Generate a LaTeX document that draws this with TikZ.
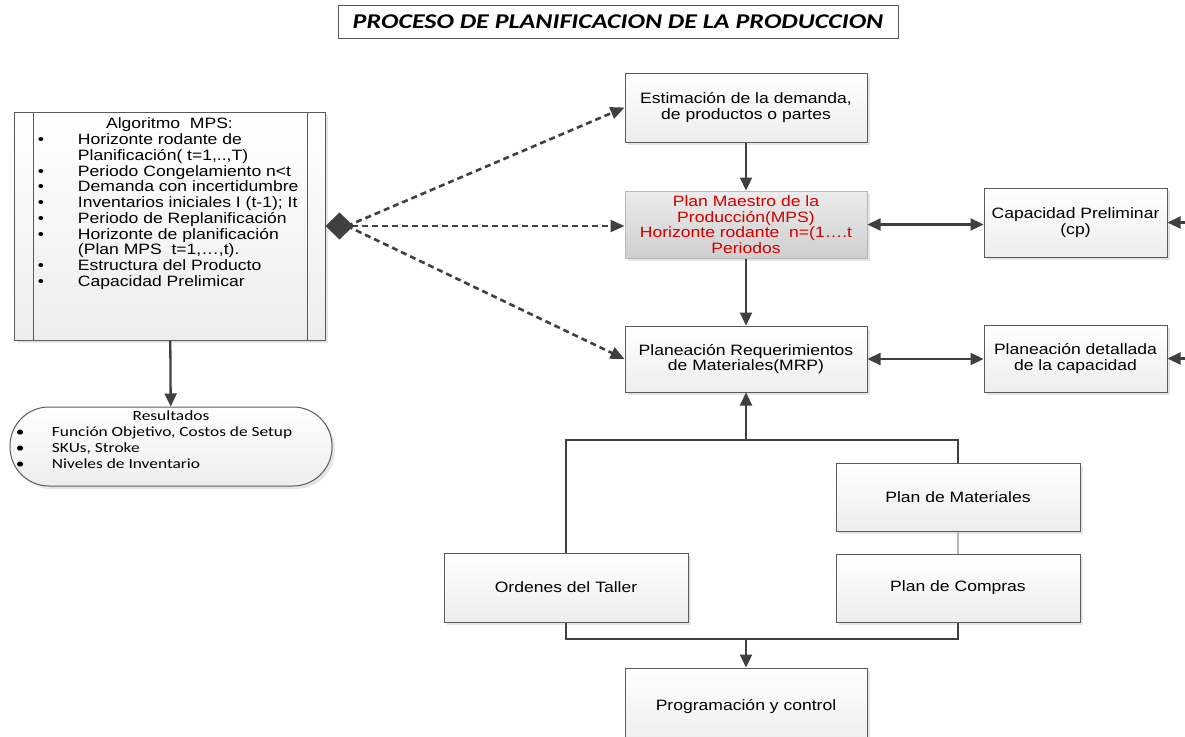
\documentclass[tikz,border=0pt]{standalone}
\usepackage{fontspec}
\setmainfont[FakeStretch=1.17]{Liberation Sans}
\newfontfamily\calfont[FakeStretch=1.24]{Carlito}
\usepackage{xcolor}
\usetikzlibrary{arrows.meta,shadows,calc}

\definecolor{linegray}{HTML}{404040}
\definecolor{boxgray}{HTML}{5A5A5A}
\definecolor{mpsred}{HTML}{D00000}

\begin{document}
\begin{tikzpicture}[x=1pt, y=-1pt,
    every node/.style={font=\fontsize{15}{15.7}\selectfont},
    box/.style={draw=boxgray, line width=1pt, top color=white, bottom color=gray!14,
      drop shadow={shadow xshift=3pt, shadow yshift=-3pt, opacity=.2},
      align=center, inner sep=2pt, minimum width=242pt},
    conn/.style={draw=linegray, line width=2.3pt},
    tip/.style={-{Triangle[length=13pt,width=12pt]}},
    twotip/.style={{Triangle[length=13pt,width=12pt]}-{Triangle[length=13pt,width=12pt]}},
    dashconn/.style={draw=linegray, line width=2.6pt, dash pattern=on 6pt off 4pt}]
  \fill[white] (0,0) rectangle (1185,736);
  \useasboundingbox (0,0) rectangle (1185,736);

  % titulo
  \node [draw=gray!70!black, line width=0.8pt, minimum width=560pt, minimum height=33pt,
    font=\calfont\bfseries\itshape\fontsize{21}{24}\selectfont] (title) at (618,21.5)
    {PROCESO DE PLANIFICACION DE LA PRODUCCION};

  % algoritmo y resultados
  \node [box, inner sep=0pt, minimum width=311pt, minimum height=228pt] (algo) at (169.5,226) {
    \begin{minipage}[t][228pt][t]{311pt}
      \vspace*{6pt}
      \begin{tabular}{@{\hspace{24pt}}p{40pt}@{}l@{}}
        \multicolumn{2}{@{}l@{}}{\makebox[311pt]{Algoritmo\ \ MPS:}}\\
        \textbullet & Horizonte rodante de\\
                    & Planificación( t=1,..,T)\\
        \textbullet & Periodo Congelamiento n<t\\
        \textbullet & Demanda con incertidumbre\\
        \textbullet & Inventarios iniciales I (t-1); It\\
        \textbullet & Periodo de Replanificación\\
        \textbullet & Horizonte de planificación\\
                    & (Plan MPS\ \ t=1,…,t).\\
        \textbullet & Estructura del Producto\\
        \textbullet & Capacidad Prelimicar
      \end{tabular}
    \end{minipage}};
  \draw [draw=boxgray, line width=1pt] ([xshift=20pt]algo.north west) -- ([xshift=20pt]algo.south west);
  \draw [draw=boxgray, line width=1pt] ([xshift=-18pt]algo.north east) -- ([xshift=-18pt]algo.south east);

  \node [box, inner sep=0pt, rounded corners=39pt, minimum width=322pt, minimum height=79pt,
    font=\calfont\fontsize{14}{16}\selectfont] (res) at (171,446.5) {
    \begin{minipage}[t][79pt][t]{322pt}
      \vspace*{2pt}
      \begin{tabular}{@{\hspace{6pt}}p{36pt}@{}l@{}}
        \multicolumn{2}{@{}l@{}}{\makebox[322pt]{Resultados}}\\
        \textbullet & Función Objetivo, Costos de Setup\\
        \textbullet & SKUs, Stroke\\
        \textbullet & Niveles de Inventario
      \end{tabular}
    \end{minipage}};

  % columna central
  \node [box, minimum height=69pt] (est) at (746,107.5) {Estimación de la demanda,\\de productos o partes};
  \node [box, draw=gray!55, top color=gray!15, bottom color=gray!38, text=mpsred, minimum height=67pt] (mps) at (746,224.5)
    {Plan Maestro de la\\Producción(MPS)\\Horizonte rodante\ \ n=(1….t\\Periodos};
  \node [box, minimum height=66pt] (mrp) at (746,359) {Planeación Requerimientos\\de Materiales(MRP)};
  \node [box, minimum width=183pt, minimum height=69pt] (cap) at (1075.5,222.5) {Capacidad Preliminar\\(cp)};
  \node [box, minimum width=183pt, minimum height=67pt] (det) at (1075.5,358.5) {Planeación detallada\\de la capacidad};

  % parte inferior
  \node [box, minimum width=244pt, minimum height=68pt] (matl) at (958,497) {Plan de Materiales};
  \node [box, minimum width=244pt, minimum height=68pt] (compras) at (958,588) {Plan de Compras};
  \node [box, minimum width=244pt, minimum height=69pt] (taller) at (566,587.5) {Ordenes del Taller};
  \node [box, minimum height=78pt] (prog) at (746,707) {Programación y control};

  \coordinate (hub) at (347,226);
  \coordinate (split) at (746,440);
  \coordinate (merge) at (746,639);
  \coordinate (capin) at (1195,222.5);
  \coordinate (detin) at (1195,358.5);

  % conexiones
  \draw [conn, tip] (est) -- (mps);
  \draw [conn, tip] (mps) -- (mrp);
  \draw [conn, twotip] (mps.east) -- (mps.east -| cap.west);
  \draw [conn, twotip] (mrp.east) -- (mrp.east -| det.west);
  \draw [conn, tip] (capin) -- (cap.east);
  \draw [conn, tip] (detin) -- (det.east);
  \draw [conn, tip] (algo) -- (res);

  \draw [conn] (taller.north) |- (split) -| (matl.north);
  \draw [conn, tip] (split) -- (mrp.south);
  \draw [draw=gray!55, line width=1.5pt] (matl.south) -- (compras.north);
  \draw [conn] (taller.south) |- (merge) -| (compras.south);
  \draw [conn, tip] (merge) -- (prog.north);

  \draw [dashconn, {Diamond[length=28pt,width=27pt]}-{Triangle[length=14pt,width=12pt]}] (algo.east) -- (algo.east -| mps.west);
  \draw [dashconn, -{Triangle[length=14pt,width=12pt]}] (hub) -- (est.west);
  \draw [dashconn, -{Triangle[length=14pt,width=12pt]}] (hub) -- (mrp.west);
\end{tikzpicture}
\end{document}
